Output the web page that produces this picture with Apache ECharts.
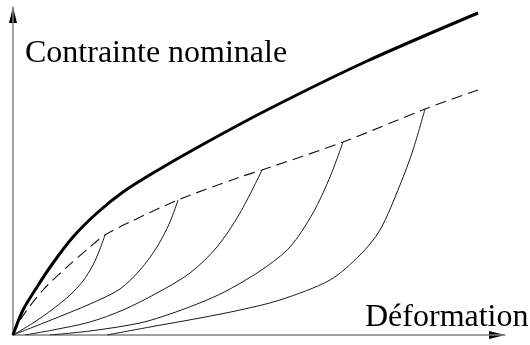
<!DOCTYPE html>
<html>
<head>
<meta charset="utf-8">
<style>
  html, body { margin: 0; padding: 0; background: #ffffff; }
  #chart { width: 530px; height: 345px; }
</style>
<script src="https://cdn.jsdelivr.net/npm/echarts@6/dist/echarts.min.js"></script>
</head>
<body>
<div id="chart"></div>
<script>
// Axis extents (arbitrary units, no ticks shown)
const xMax = 492;
const yMax = 328;

// Monotonic loading envelope (thick solid)
const envelope = [[0,0],[10,25],[24,48],[40,72],[60,98],[84,122],[110,143],[140,162],[187,189],[254,225],[352,273],[465,322]];

// Locus of the maximum stresses reached on each cycle (dashed)
const maxLocus = [[0,0],[7,15],[30,45],[54,68],[77,88],[92,100],[117,113],[165,135],[227,158],[249,165],[330,193],[412,226],[465,245]];

// Reloading curves, one per cycle
const cycle1 = [[0,0],[20,12],[40,26],[57,40],[70,54],[80,70],[87,86],[92,100]];
const cycle2 = [[0,0],[38,15],[77,31],[107,46],[127,65],[144,88],[157,113],[165,135]];
const cycle3 = [[12,0],[40,5],[77,13],[110,25],[144,42],[177,62],[204,88],[227,122],[249,165]];
const cycle4 = [[37,0],[77,4],[127,12],[160,22],[194,35],[217,46],[250,66],[277,88],[300,122],[317,158],[330,193]];
const cycle5 = [[94,0],[137,8],[187,17],[227,25],[267,35],[317,55],[347,80],[367,105],[387,150],[400,185],[412,226]];

const yTitle = 'Contrainte nominale';
const xTitle = 'Déformation';

const chart = echarts.init(document.getElementById('chart'));

const thin = (data) => ({
  type: 'line', data, smooth: 0.3, showSymbol: false, silent: true,
  lineStyle: { color: '#1a1a1a', width: 1 }
});

const axisCommon = {
  type: 'value',
  axisLine: { show: true, onZero: false, lineStyle: { color: '#808080', width: 1.5 } },
  axisTick: { show: false },
  axisLabel: { show: false },
  splitLine: { show: false }
};

chart.setOption({
  animation: false,
  grid: { left: 13, top: 7, right: 25, bottom: 10 },
  xAxis: Object.assign({ min: 0, max: xMax }, axisCommon),
  yAxis: Object.assign({ min: 0, max: yMax }, axisCommon),
  series: [
    thin(cycle1), thin(cycle2), thin(cycle3), thin(cycle4), thin(cycle5),
    {
      type: 'line', data: maxLocus, smooth: 0.3, showSymbol: false, silent: true,
      lineStyle: { color: '#111111', width: 1.1, type: [11, 6] }
    },
    {
      type: 'line', data: envelope, smooth: 0.3, showSymbol: false, silent: true,
      lineStyle: { color: '#000000', width: 3 }
    }
  ]
});

// Arrowheads at the ends of both axes, plus the axis titles
const xEnd = chart.convertToPixel({ gridIndex: 0 }, [xMax, 0]);
const yEnd = chart.convertToPixel({ gridIndex: 0 }, [0, yMax]);
chart.setOption({
  graphic: [
    { type: 'polygon', shape: { points: [[yEnd[0], yEnd[1]], [yEnd[0] - 4, yEnd[1] + 16], [yEnd[0] + 4, yEnd[1] + 16]] }, style: { fill: '#000' } },
    { type: 'polygon', shape: { points: [[xEnd[0], xEnd[1]], [xEnd[0] - 16, xEnd[1] - 4], [xEnd[0] - 16, xEnd[1] + 4]] }, style: { fill: '#000' } },
    { type: 'text', left: 25, top: 38, style: { text: yTitle, fontFamily: 'Liberation Serif', fontSize: 32, fill: '#000' } },
    { type: 'text', left: 365, top: 302, style: { text: xTitle, fontFamily: 'Liberation Serif', fontSize: 32, fill: '#000' } }
  ]
});
</script>
</body>
</html>
